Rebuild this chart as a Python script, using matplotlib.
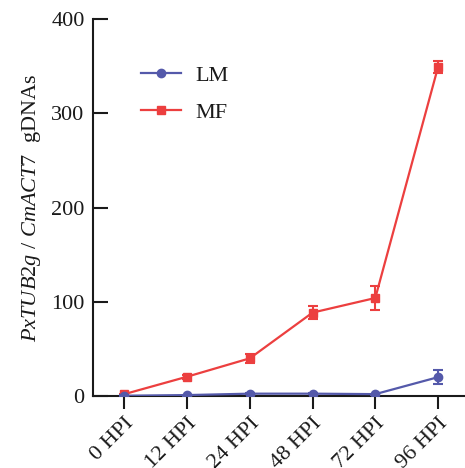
import numpy as np
import matplotlib
matplotlib.use('Agg')
import matplotlib.pyplot as plt

plt.rcParams['font.family'] = ['Liberation Serif', 'DejaVu Serif']
plt.rcParams['mathtext.fontset'] = 'custom'
plt.rcParams['mathtext.rm'] = 'Liberation Serif'
plt.rcParams['mathtext.it'] = 'Liberation Serif:italic'

# data
categories = ['0 HPI', '12 HPI', '24 HPI', '48 HPI', '72 HPI', '96 HPI']
lm_mean = [0.3, 1.0, 2.5, 2.5, 2.0, 20.0]
lm_err = [0.3, 0.5, 0.8, 0.8, 0.6, 7.5]
mf_mean = [2.0, 20.5, 40.0, 88.5, 104.0, 349.0]
mf_err = [0.5, 2.0, 4.5, 7.0, 12.5, 6.0]

blue = '#5459AA'
red = '#EC3F3F'
ink = '#1a1a1a'

fig = plt.figure(figsize=(4.65, 4.68), dpi=100)
ax = fig.add_axes([0.2, 0.1538, 0.8, 0.8056])

x = np.arange(len(categories))
mf = ax.errorbar(x, mf_mean, yerr=mf_err, color=red, marker='s', ms=6, lw=1.6,
                 capsize=3.5, capthick=1.5, elinewidth=1.5, zorder=3)
lm = ax.errorbar(x, lm_mean, yerr=lm_err, color=blue, marker='o', ms=6, lw=1.6,
                 capsize=3.5, capthick=1.5, elinewidth=1.5, zorder=4)

ax.set_xlim(-0.5, 5.43)
ax.set_ylim(0, 400)
ax.set_yticks([0, 100, 200, 300, 400])
ax.set_xticks(x)
ax.set_xticklabels(categories, rotation=45, ha='right', rotation_mode='anchor',
                   fontsize=16)
ax.tick_params(axis='y', direction='in', length=10.5, width=1.5, labelsize=16,
               pad=6, colors=ink)
ax.tick_params(axis='x', direction='out', length=9, width=1.5, pad=4,
               colors=ink)
for s in ['top', 'right']:
    ax.spines[s].set_visible(False)
for s in ['left', 'bottom']:
    ax.spines[s].set_linewidth(1.5)
    ax.spines[s].set_color(ink)

ax.set_ylabel(r'$\it{PxTUB2g}$ / $\it{CmACT7}$  gDNAs', fontsize=16,
              labelpad=6, color=ink)

leg = ax.legend([lm.lines[0], mf.lines[0]], ['LM', 'MF'], loc='upper left',
                bbox_to_anchor=(0.075, 0.93), frameon=False, fontsize=16,
                handlelength=1.8, labelspacing=0.75, handletextpad=0.65)
for t in leg.get_texts():
    t.set_color(ink)

fig.savefig('out.png', dpi=100)
